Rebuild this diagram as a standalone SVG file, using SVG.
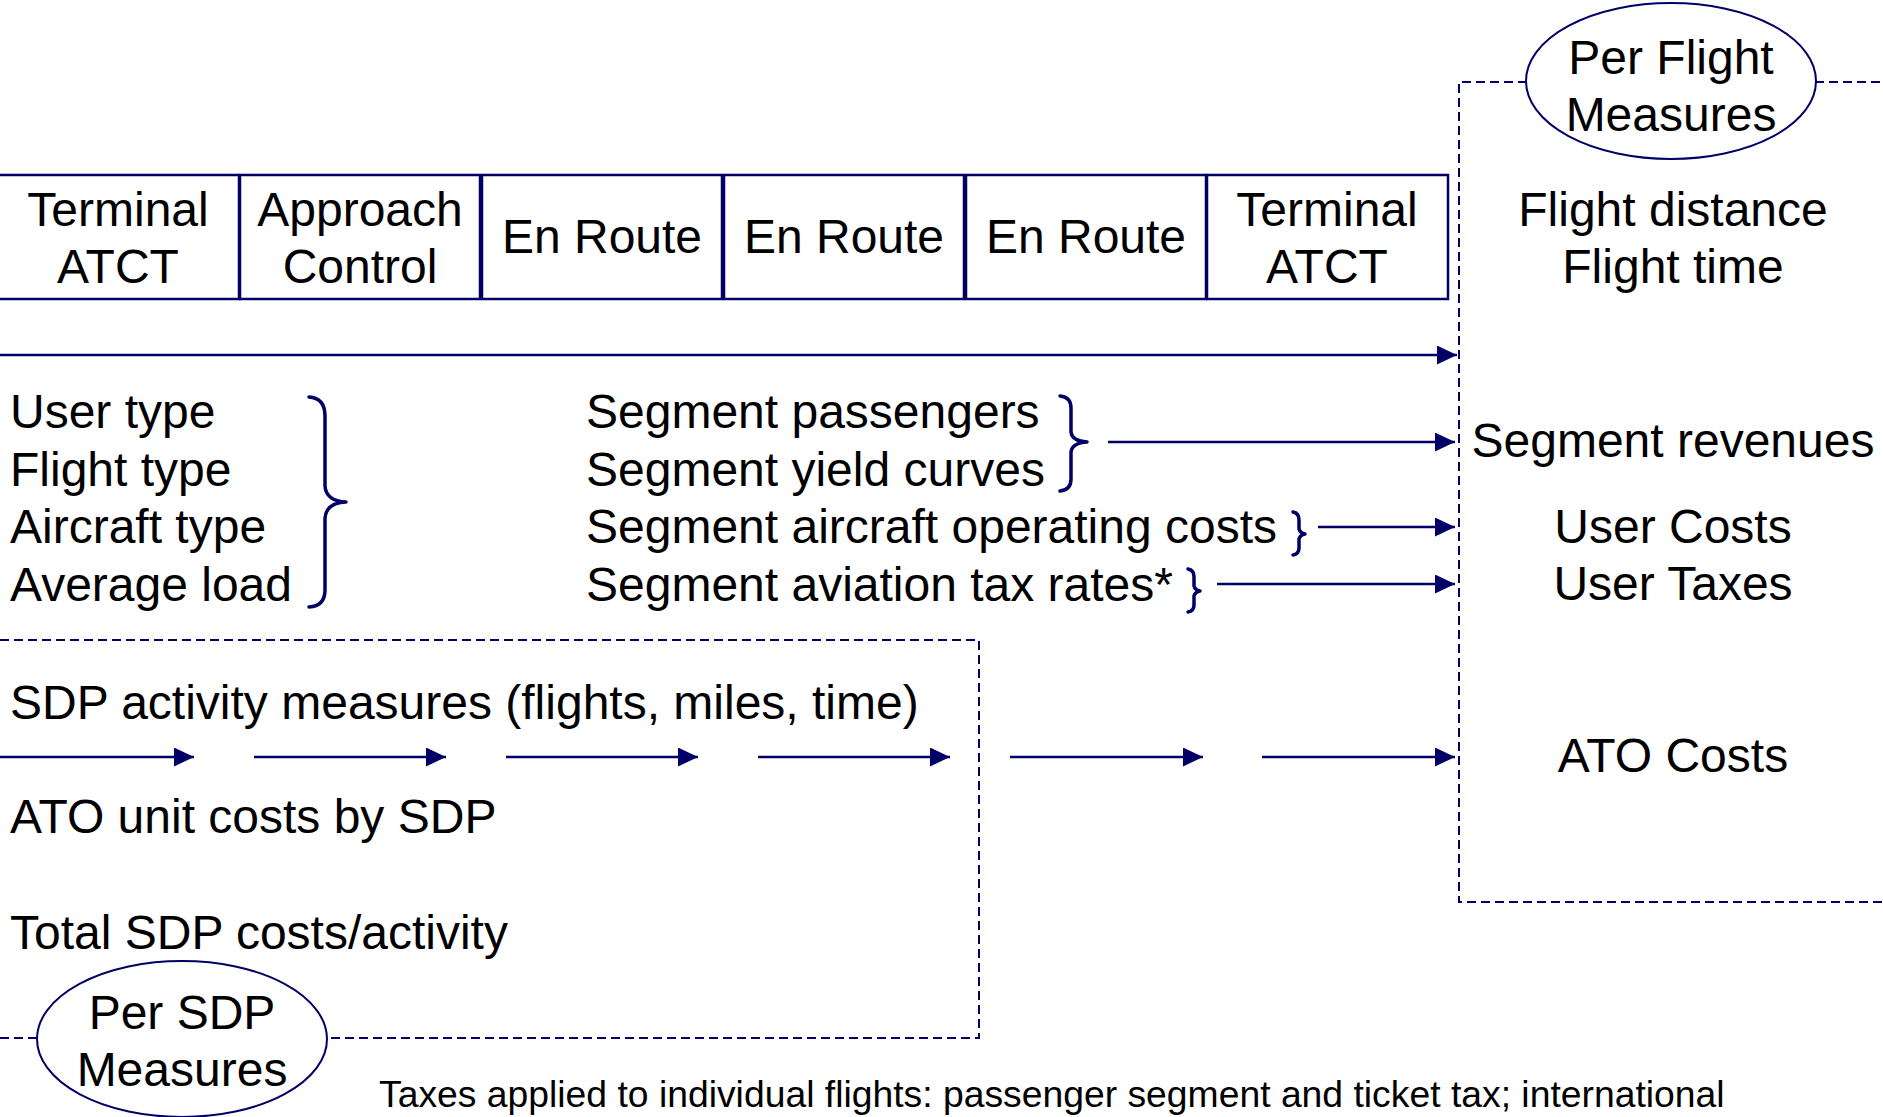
<svg xmlns="http://www.w3.org/2000/svg" width="1883" height="1117" viewBox="0 0 1883 1117">
<style>
  text { font-family: "Liberation Sans", Arial, sans-serif; font-size: 48px; fill: #000; }
  .c { text-anchor: middle; }
  .foot { font-size: 37.3px; }
  .box { fill: #fff; stroke: #000066; stroke-width: 2.5; }
  .dash { fill: none; stroke: #000066; stroke-width: 2; stroke-dasharray: 9 5; }
  .ell { fill: #fff; stroke: #000066; stroke-width: 2; }
  .arr { fill: none; stroke: #000066; stroke-width: 2.5; marker-end: url(#ah); }
  .brace { fill: none; stroke: #000066; stroke-width: 3.5; stroke-linecap: round; stroke-linejoin: round; }
</style>
<defs>
  <marker id="ah" markerUnits="userSpaceOnUse" markerWidth="20" markerHeight="19" refX="20" refY="9.5" orient="auto">
    <path d="M0,0 L20,9.5 L0,19 Z" fill="#000066"/>
  </marker>
</defs>
<rect width="1883" height="1117" fill="#fff"/>

<!-- dashed frames -->
<g id="flight-frame">
  <path class="dash" d="M1527,82 H1459 V902 H1883"/>
  <path class="dash" d="M1815,82 H1883"/>
</g>
<g id="sdp-frame">
  <path class="dash" d="M0,640 H979 V1038 H327"/>
  <path class="dash" d="M37,1038 H0"/>
</g>

<!-- SDP boxes -->
<g id="box-terminal-1"><rect class="box" x="-2" y="175" width="241" height="124"/><text class="c" x="118" y="226">Terminal</text><text class="c" x="118" y="283">ATCT</text></g>
<g id="box-approach"><rect class="box" x="240" y="175" width="240" height="124"/><text class="c" x="360" y="226">Approach</text><text class="c" x="360" y="283">Control</text></g>
<g id="box-enroute-1"><rect class="box" x="482" y="175" width="240" height="124"/><text class="c" x="602" y="253">En Route</text></g>
<g id="box-enroute-2"><rect class="box" x="724" y="175" width="240" height="124"/><text class="c" x="844" y="253">En Route</text></g>
<g id="box-enroute-3"><rect class="box" x="966" y="175" width="240" height="124"/><text class="c" x="1086" y="253">En Route</text></g>
<g id="box-terminal-2"><rect class="box" x="1207" y="175" width="241" height="124"/><text class="c" x="1327" y="226">Terminal</text><text class="c" x="1327" y="283">ATCT</text></g>

<!-- ellipses -->
<g id="per-flight"><ellipse class="ell" cx="1671" cy="81" rx="145" ry="78"/><text class="c" x="1671" y="74">Per Flight</text><text class="c" x="1671" y="131">Measures</text></g>
<g id="per-sdp"><ellipse class="ell" cx="182" cy="1039" rx="145" ry="78"/><text class="c" x="182" y="1029">Per SDP</text><text class="c" x="182" y="1086">Measures</text></g>

<!-- flight measures -->
<g id="flight-measures"><text class="c" x="1673" y="226">Flight distance</text><text class="c" x="1673" y="283">Flight time</text></g>

<!-- user inputs -->
<g id="user-inputs">
  <text x="10" y="428">User type</text>
  <text x="10" y="486">Flight type</text>
  <text x="10" y="543">Aircraft type</text>
  <text x="10" y="601">Average load</text>
  <path class="brace" d="M309,397 Q325,398 325,416 L325,486 Q326,501 346,502 Q326,503 325,518 L325,590 Q325,606 309,607"/>
</g>

<g id="segment-inputs">
  <text x="586" y="428">Segment passengers</text>
  <text x="586" y="486">Segment yield curves</text>
  <text x="586" y="543">Segment aircraft operating costs</text>
  <text x="586" y="601">Segment aviation tax rates*</text>
  <path class="brace" d="M1060,396 Q1071,397 1071,408 L1071,432 Q1072,441 1087,442 Q1072,443 1071,452 L1071,479 Q1071,490 1060,491"/>
  <path class="brace" d="M1293,512 Q1299,513 1299,520 L1299,529 Q1300,533 1305,534 Q1300,535 1299,539 L1299,548 Q1299,554 1293,555"/>
  <path class="brace" d="M1188,569 Q1194,570 1194,577 L1194,586 Q1195,590 1200,591 Q1195,592 1194,596 L1194,605 Q1194,611 1188,612"/>
</g>

<g id="results">
  <text class="c" x="1673" y="457">Segment revenues</text>
  <text class="c" x="1673" y="543">User Costs</text>
  <text class="c" x="1673" y="600">User Taxes</text>
  <text class="c" x="1673" y="772">ATO Costs</text>
</g>

<g id="sdp-measures">
  <text x="10" y="719">SDP activity measures (flights, miles, time)</text>
  <text x="10" y="833">ATO unit costs by SDP</text>
  <text x="10" y="949">Total SDP costs/activity</text>
</g>

<g id="footnote"><text class="foot" x="379" y="1107">Taxes applied to individual flights: passenger segment and ticket tax; international</text></g>

<!-- connectors -->
<g id="connectors">
  <line class="arr" x1="0" y1="355" x2="1457" y2="355"/>
  <line class="arr" x1="1108" y1="442" x2="1455" y2="442"/>
  <line class="arr" x1="1318" y1="527" x2="1455" y2="527"/>
  <line class="arr" x1="1217" y1="584" x2="1455" y2="584"/>
  <line class="arr" x1="0" y1="757" x2="194" y2="757"/>
  <line class="arr" x1="254" y1="757" x2="446" y2="757"/>
  <line class="arr" x1="506" y1="757" x2="698" y2="757"/>
  <line class="arr" x1="758" y1="757" x2="950" y2="757"/>
  <line class="arr" x1="1010" y1="757" x2="1203" y2="757"/>
  <line class="arr" x1="1262" y1="757" x2="1455" y2="757"/>
</g>
</svg>
